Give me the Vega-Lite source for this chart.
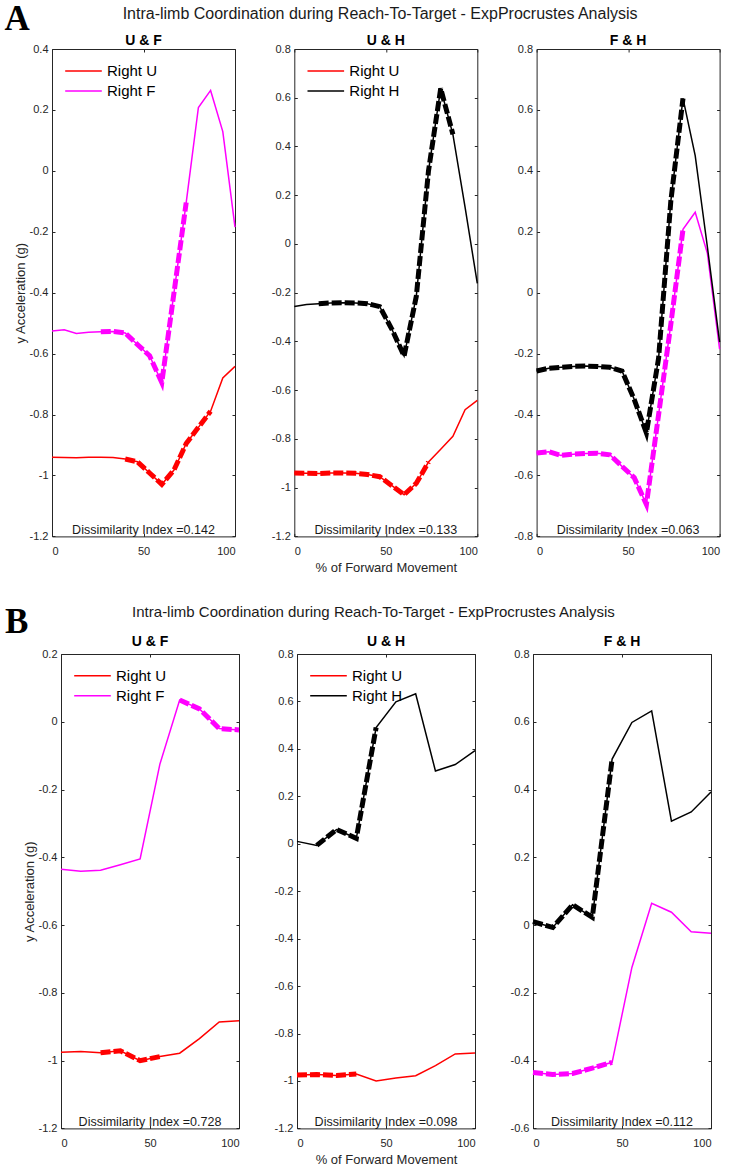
{
  "$schema": "https://vega.github.io/schema/vega-lite/v6.json",
  "background": "white",
  "padding": {"left": 4, "top": 2, "right": 8, "bottom": 2},
  "config": {
    "font": "Liberation Sans",
    "locale": {"number": {"decimal": ".", "thousands": ",", "grouping": [3], "currency": ["$", ""], "minus": "-"}},
    "view": {"stroke": "#262626", "strokeWidth": 1},
    "axis": {"grid": false, "domain": false, "tickSize": -3, "tickColor": "#262626", "tickWidth": 1, "labelColor": "#262626", "labelFontSize": 11, "titleColor": "#262626", "titleFontSize": 13, "titleFontWeight": "normal"},
    "axisY": {"labelPadding": 7, "titlePadding": 1.5},
    "axisX": {"labelPadding": 12, "titlePadding": 5},
    "title": {"fontSize": 14, "fontWeight": "bold", "color": "#000000", "offset": -5, "baseline": "alphabetic"}
  },
  "datasets": {
    "setA": [
      {"series": "Right U", "x": 0, "y": -0.940}, {"series": "Right U", "x": 6.667, "y": -0.941}, {"series": "Right U", "x": 13.333, "y": -0.942}, {"series": "Right U", "x": 20, "y": -0.940}, {"series": "Right U", "x": 26.667, "y": -0.940}, {"series": "Right U", "x": 33.333, "y": -0.941}, {"series": "Right U", "x": 40, "y": -0.946}, {"series": "Right U", "x": 46.667, "y": -0.955}, {"series": "Right U", "x": 53.333, "y": -0.992}, {"series": "Right U", "x": 60, "y": -1.029}, {"series": "Right U", "x": 66.667, "y": -0.982}, {"series": "Right U", "x": 73.333, "y": -0.895}, {"series": "Right U", "x": 80, "y": -0.842}, {"series": "Right U", "x": 86.667, "y": -0.789}, {"series": "Right U", "x": 93.333, "y": -0.680}, {"series": "Right U", "x": 100, "y": -0.642},
      {"series": "Right F", "x": 0, "y": -0.526}, {"series": "Right F", "x": 6.667, "y": -0.522}, {"series": "Right F", "x": 13.333, "y": -0.534}, {"series": "Right F", "x": 20, "y": -0.530}, {"series": "Right F", "x": 26.667, "y": -0.528}, {"series": "Right F", "x": 33.333, "y": -0.527}, {"series": "Right F", "x": 40, "y": -0.532}, {"series": "Right F", "x": 46.667, "y": -0.570}, {"series": "Right F", "x": 53.333, "y": -0.607}, {"series": "Right F", "x": 60, "y": -0.695}, {"series": "Right F", "x": 66.667, "y": -0.400}, {"series": "Right F", "x": 73.333, "y": -0.104}, {"series": "Right F", "x": 80, "y": 0.208}, {"series": "Right F", "x": 86.667, "y": 0.264}, {"series": "Right F", "x": 93.333, "y": 0.129}, {"series": "Right F", "x": 100, "y": -0.185},
      {"series": "Right H", "x": 0, "y": -0.257}, {"series": "Right H", "x": 6.667, "y": -0.248}, {"series": "Right H", "x": 13.333, "y": -0.245}, {"series": "Right H", "x": 20, "y": -0.242}, {"series": "Right H", "x": 26.667, "y": -0.241}, {"series": "Right H", "x": 33.333, "y": -0.242}, {"series": "Right H", "x": 40, "y": -0.245}, {"series": "Right H", "x": 46.667, "y": -0.257}, {"series": "Right H", "x": 53.333, "y": -0.350}, {"series": "Right H", "x": 60, "y": -0.460}, {"series": "Right H", "x": 66.667, "y": -0.215}, {"series": "Right H", "x": 73.333, "y": 0.300}, {"series": "Right H", "x": 80, "y": 0.638}, {"series": "Right H", "x": 86.667, "y": 0.450}, {"series": "Right H", "x": 93.333, "y": 0.150}, {"series": "Right H", "x": 100, "y": -0.162}
    ],
    "setB": [
      {"series": "Right U", "x": 0, "y": -0.975}, {"series": "Right U", "x": 11.111, "y": -0.973}, {"series": "Right U", "x": 22.222, "y": -0.977}, {"series": "Right U", "x": 33.333, "y": -0.971}, {"series": "Right U", "x": 44.444, "y": -1.000}, {"series": "Right U", "x": 55.556, "y": -0.988}, {"series": "Right U", "x": 66.667, "y": -0.978}, {"series": "Right U", "x": 77.778, "y": -0.935}, {"series": "Right U", "x": 88.889, "y": -0.886}, {"series": "Right U", "x": 100, "y": -0.882},
      {"series": "Right F", "x": 0, "y": -0.435}, {"series": "Right F", "x": 11.111, "y": -0.441}, {"series": "Right F", "x": 22.222, "y": -0.438}, {"series": "Right F", "x": 33.333, "y": -0.422}, {"series": "Right F", "x": 44.444, "y": -0.405}, {"series": "Right F", "x": 55.556, "y": -0.125}, {"series": "Right F", "x": 66.667, "y": 0.064}, {"series": "Right F", "x": 77.778, "y": 0.038}, {"series": "Right F", "x": 88.889, "y": -0.020}, {"series": "Right F", "x": 100, "y": -0.024},
      {"series": "Right H", "x": 0, "y": 0.010}, {"series": "Right H", "x": 11.111, "y": -0.007}, {"series": "Right H", "x": 22.222, "y": 0.060}, {"series": "Right H", "x": 33.333, "y": 0.023}, {"series": "Right H", "x": 44.444, "y": 0.490}, {"series": "Right H", "x": 55.556, "y": 0.598}, {"series": "Right H", "x": 66.667, "y": 0.632}, {"series": "Right H", "x": 77.778, "y": 0.307}, {"series": "Right H", "x": 88.889, "y": 0.334}, {"series": "Right H", "x": 100, "y": 0.393}
    ],
    "notes": [
      {"panel": "A1", "label": "Dissimilarity Index =0.142"},
      {"panel": "A2", "label": "Dissimilarity Index =0.133"},
      {"panel": "A3", "label": "Dissimilarity Index =0.063"},
      {"panel": "B1", "label": "Dissimilarity Index =0.728"},
      {"panel": "B2", "label": "Dissimilarity Index =0.098"},
      {"panel": "B3", "label": "Dissimilarity Index =0.112"}
    ]
  },
  "resolve": {"scale": {"color": "independent"}},
  "spacing": 29,
  "vconcat": [
    {
      "title": {"text": "A", "font": "Liberation Serif", "fontSize": 35, "fontWeight": "bold", "color": "#000000", "anchor": "start", "offset": -30, "dx": -9.5, "dy": 29.5, "baseline": "alphabetic"},
      "resolve": {"scale": {"color": "independent"}},
      "vconcat": [
        {
          "title": {"text": "Intra-limb Coordination during Reach-To-Target - ExpProcrustes Analysis", "fontSize": 16, "fontWeight": "normal", "color": "#1a1a1a", "anchor": "middle", "offset": -1, "dx": 11.5, "baseline": "alphabetic"},
          "bounds": "flush",
          "spacing": 59.3,
          "resolve": {"scale": {"color": "independent"}},
          "hconcat": [
            {
              "width": 183, "height": 487.4,
              "title": {"text": "U & F"},
              "layer": [
                {"data": {"name": "setA"}, "transform": [{"filter": "datum.series == 'Right U' || datum.series == 'Right F'"}],
                 "mark": {"type": "line", "strokeWidth": 1.5},
                 "encoding": {
                   "x": {"field": "x", "type": "quantitative", "scale": {"domain": [0, 100], "nice": false}, "axis": {"values": [0, 50, 100], "title": null, "format": "d"}},
                   "y": {"field": "y", "type": "quantitative", "scale": {"domain": [-1.2, 0.4], "nice": false, "zero": false}, "axis": {"values": [-1.2, -1, -0.8, -0.6, -0.4, -0.2, 0, 0.2, 0.4], "format": "~g", "title": "y Acceleration (g)"}},
                   "color": {"field": "series", "type": "nominal", "scale": {"domain": ["Right U", "Right F"], "range": ["#ff0000", "#ff00ff"]}, "legend": {"orient": "top-left", "offset": 12, "title": null, "symbolType": "stroke", "symbolSize": 1340, "symbolStrokeWidth": 1.5, "symbolDash": [], "labelFontSize": 15, "labelColor": "#000000", "labelOffset": 4, "clipHeight": 20, "rowPadding": 0, "padding": 0}}
                 }},
                {"data": {"name": "setA"}, "transform": [{"filter": "(datum.series == 'Right F' && datum.x > 26 && datum.x < 74) || (datum.series == 'Right U' && datum.x > 39 && datum.x < 87)"}],
                 "mark": {"type": "line", "strokeWidth": 5, "strokeDash": [10, 3]},
                 "encoding": {
                   "x": {"field": "x", "type": "quantitative", "axis": {"orient": "top", "values": [0, 50, 100], "labels": false, "title": null}},
                   "y": {"field": "y", "type": "quantitative", "axis": {"orient": "right", "values": [-1.2, -1, -0.8, -0.6, -0.4, -0.2, 0, 0.2, 0.4], "labels": false, "title": null}},
                   "color": {"field": "series", "type": "nominal", "legend": null}
                 }},
                {"data": {"name": "notes"}, "transform": [{"filter": "datum.panel == 'A1'"}],
                 "mark": {"type": "text", "baseline": "alphabetic", "dy": -2.5, "fontSize": 12.5, "color": "#1a1a1a"},
                 "encoding": {"x": {"datum": 50, "type": "quantitative", "axis": null}, "y": {"datum": -1.2, "type": "quantitative", "axis": null}, "text": {"field": "label"}}}
              ],
              "resolve": {"axis": {"x": "independent", "y": "independent"}}
            },
            {
              "width": 183, "height": 487.4,
              "title": {"text": "U & H"},
              "layer": [
                {"data": {"name": "setA"}, "transform": [{"filter": "datum.series == 'Right U' || datum.series == 'Right H'"}],
                 "mark": {"type": "line", "strokeWidth": 1.5},
                 "encoding": {
                   "x": {"field": "x", "type": "quantitative", "scale": {"domain": [0, 100], "nice": false}, "axis": {"values": [0, 50, 100], "title": "% of Forward Movement", "format": "d"}},
                   "y": {"field": "y", "type": "quantitative", "scale": {"domain": [-1.2, 0.8], "nice": false, "zero": false}, "axis": {"values": [-1.2, -1, -0.8, -0.6, -0.4, -0.2, 0, 0.2, 0.4, 0.6, 0.8], "format": "~g", "title": null}},
                   "color": {"field": "series", "type": "nominal", "scale": {"domain": ["Right U", "Right H"], "range": ["#ff0000", "#000000"]}, "legend": {"orient": "top-left", "offset": 12, "title": null, "symbolType": "stroke", "symbolSize": 1340, "symbolStrokeWidth": 1.5, "symbolDash": [], "labelFontSize": 15, "labelColor": "#000000", "labelOffset": 4, "clipHeight": 20, "rowPadding": 0, "padding": 0}}
                 }},
                {"data": {"name": "setA"}, "transform": [{"filter": "(datum.series == 'Right H' && datum.x > 13 && datum.x < 87) || (datum.series == 'Right U' && datum.x < 74)"}],
                 "mark": {"type": "line", "strokeWidth": 5, "strokeDash": [10, 3]},
                 "encoding": {
                   "x": {"field": "x", "type": "quantitative", "axis": {"orient": "top", "values": [0, 50, 100], "labels": false, "title": null}},
                   "y": {"field": "y", "type": "quantitative", "axis": {"orient": "right", "values": [-1.2, -1, -0.8, -0.6, -0.4, -0.2, 0, 0.2, 0.4, 0.6, 0.8], "labels": false, "title": null}},
                   "color": {"field": "series", "type": "nominal", "legend": null}
                 }},
                {"data": {"name": "notes"}, "transform": [{"filter": "datum.panel == 'A2'"}],
                 "mark": {"type": "text", "baseline": "alphabetic", "dy": -2.5, "fontSize": 12.5, "color": "#1a1a1a"},
                 "encoding": {"x": {"datum": 50, "type": "quantitative", "axis": null}, "y": {"datum": -1.2, "type": "quantitative", "axis": null}, "text": {"field": "label"}}}
              ],
              "resolve": {"axis": {"x": "independent", "y": "independent"}}
            },
            {
              "width": 183, "height": 487.4,
              "title": {"text": "F & H"},
              "layer": [
                {"data": {"name": "setA"}, "transform": [{"filter": "datum.series == 'Right F' || datum.series == 'Right H'"}],
                 "mark": {"type": "line", "strokeWidth": 1.5},
                 "encoding": {
                   "x": {"field": "x", "type": "quantitative", "scale": {"domain": [0, 100], "nice": false}, "axis": {"values": [0, 50, 100], "title": null, "format": "d"}},
                   "y": {"field": "y", "type": "quantitative", "scale": {"domain": [-0.8, 0.8], "nice": false, "zero": false}, "axis": {"values": [-0.8, -0.6, -0.4, -0.2, 0, 0.2, 0.4, 0.6, 0.8], "format": "~g", "title": null}},
                   "color": {"field": "series", "type": "nominal", "scale": {"domain": ["Right F", "Right H"], "range": ["#ff00ff", "#000000"]}, "legend": null}
                 }},
                {"data": {"name": "setA"}, "transform": [{"filter": "(datum.series == 'Right H' && datum.x < 81) || (datum.series == 'Right F' && datum.x < 81)"}],
                 "mark": {"type": "line", "strokeWidth": 5, "strokeDash": [10, 3]},
                 "encoding": {
                   "x": {"field": "x", "type": "quantitative", "axis": {"orient": "top", "values": [0, 50, 100], "labels": false, "title": null}},
                   "y": {"field": "y", "type": "quantitative", "axis": {"orient": "right", "values": [-0.8, -0.6, -0.4, -0.2, 0, 0.2, 0.4, 0.6, 0.8], "labels": false, "title": null}},
                   "color": {"field": "series", "type": "nominal", "legend": null}
                 }},
                {"data": {"name": "notes"}, "transform": [{"filter": "datum.panel == 'A3'"}],
                 "mark": {"type": "text", "baseline": "alphabetic", "dy": -2.5, "fontSize": 12.5, "color": "#1a1a1a"},
                 "encoding": {"x": {"datum": 50, "type": "quantitative", "axis": null}, "y": {"datum": -0.8, "type": "quantitative", "axis": null}, "text": {"field": "label"}}}
              ],
              "resolve": {"axis": {"x": "independent", "y": "independent"}}
            }
          ]
        }
      ]
    },
    {
      "title": {"text": "B", "font": "Liberation Serif", "fontSize": 35, "fontWeight": "bold", "color": "#000000", "anchor": "start", "offset": -34.5, "dx": -18, "dy": 28, "baseline": "alphabetic"},
      "resolve": {"scale": {"color": "independent"}},
      "bounds": "flush",
      "spacing": 0,
      "hconcat": [
        {"width": 9, "height": 10, "data": {"values": []}, "mark": {"type": "point", "opacity": 0}, "view": {"stroke": null}},
        {
          "title": {"text": "Intra-limb Coordination during Reach-To-Target - ExpProcrustes Analysis", "fontSize": 15, "fontWeight": "normal", "color": "#1a1a1a", "anchor": "middle", "offset": 2.5, "dx": 4.7, "baseline": "alphabetic"},
          "bounds": "flush",
          "spacing": 58,
          "resolve": {"scale": {"color": "independent"}},
          "hconcat": [
            {
              "width": 178, "height": 474.4,
              "title": {"text": "U & F", "offset": -1},
              "layer": [
                {"data": {"name": "setB"}, "transform": [{"filter": "datum.series == 'Right U' || datum.series == 'Right F'"}],
                 "mark": {"type": "line", "strokeWidth": 1.5},
                 "encoding": {
                   "x": {"field": "x", "type": "quantitative", "scale": {"domain": [0, 100], "nice": false}, "axis": {"values": [0, 50, 100], "title": null, "format": "d"}},
                   "y": {"field": "y", "type": "quantitative", "scale": {"domain": [-1.2, 0.2], "nice": false, "zero": false}, "axis": {"values": [-1.2, -1, -0.8, -0.6, -0.4, -0.2, 0, 0.2], "format": "~g", "title": "y Acceleration (g)"}},
                   "color": {"field": "series", "type": "nominal", "scale": {"domain": ["Right U", "Right F"], "range": ["#ff0000", "#ff00ff"]}, "legend": {"orient": "top-left", "offset": 12, "title": null, "symbolType": "stroke", "symbolSize": 1340, "symbolStrokeWidth": 1.5, "symbolDash": [], "labelFontSize": 15, "labelColor": "#000000", "labelOffset": 4, "clipHeight": 19.5, "rowPadding": 0, "padding": 0}}
                 }},
                {"data": {"name": "setB"}, "transform": [{"filter": "(datum.series == 'Right F' && datum.x > 66) || (datum.series == 'Right U' && datum.x > 22 && datum.x < 56)"}],
                 "mark": {"type": "line", "strokeWidth": 5, "strokeDash": [10, 3]},
                 "encoding": {
                   "x": {"field": "x", "type": "quantitative", "axis": {"orient": "top", "values": [0, 50, 100], "labels": false, "title": null}},
                   "y": {"field": "y", "type": "quantitative", "axis": {"orient": "right", "values": [-1.2, -1, -0.8, -0.6, -0.4, -0.2, 0, 0.2], "labels": false, "title": null}},
                   "color": {"field": "series", "type": "nominal", "legend": null}
                 }},
                {"data": {"name": "notes"}, "transform": [{"filter": "datum.panel == 'B1'"}],
                 "mark": {"type": "text", "baseline": "alphabetic", "dy": -2.5, "fontSize": 12.5, "color": "#1a1a1a"},
                 "encoding": {"x": {"datum": 50, "type": "quantitative", "axis": null}, "y": {"datum": -1.2, "type": "quantitative", "axis": null}, "text": {"field": "label"}}}
              ],
              "resolve": {"axis": {"x": "independent", "y": "independent"}}
            },
            {
              "width": 178, "height": 474.4,
              "title": {"text": "U & H", "offset": -1},
              "layer": [
                {"data": {"name": "setB"}, "transform": [{"filter": "datum.series == 'Right U' || datum.series == 'Right H'"}],
                 "mark": {"type": "line", "strokeWidth": 1.5},
                 "encoding": {
                   "x": {"field": "x", "type": "quantitative", "scale": {"domain": [0, 100], "nice": false}, "axis": {"values": [0, 50, 100], "title": "% of Forward Movement", "format": "d"}},
                   "y": {"field": "y", "type": "quantitative", "scale": {"domain": [-1.2, 0.8], "nice": false, "zero": false}, "axis": {"values": [-1.2, -1, -0.8, -0.6, -0.4, -0.2, 0, 0.2, 0.4, 0.6, 0.8], "format": "~g", "title": null}},
                   "color": {"field": "series", "type": "nominal", "scale": {"domain": ["Right U", "Right H"], "range": ["#ff0000", "#000000"]}, "legend": {"orient": "top-left", "offset": 12, "title": null, "symbolType": "stroke", "symbolSize": 1340, "symbolStrokeWidth": 1.5, "symbolDash": [], "labelFontSize": 15, "labelColor": "#000000", "labelOffset": 4, "clipHeight": 19.5, "rowPadding": 0, "padding": 0}}
                 }},
                {"data": {"name": "setB"}, "transform": [{"filter": "(datum.series == 'Right H' && datum.x > 11 && datum.x < 45) || (datum.series == 'Right U' && datum.x < 34)"}],
                 "mark": {"type": "line", "strokeWidth": 5, "strokeDash": [10, 3]},
                 "encoding": {
                   "x": {"field": "x", "type": "quantitative", "axis": {"orient": "top", "values": [0, 50, 100], "labels": false, "title": null}},
                   "y": {"field": "y", "type": "quantitative", "axis": {"orient": "right", "values": [-1.2, -1, -0.8, -0.6, -0.4, -0.2, 0, 0.2, 0.4, 0.6, 0.8], "labels": false, "title": null}},
                   "color": {"field": "series", "type": "nominal", "legend": null}
                 }},
                {"data": {"name": "notes"}, "transform": [{"filter": "datum.panel == 'B2'"}],
                 "mark": {"type": "text", "baseline": "alphabetic", "dy": -2.5, "fontSize": 12.5, "color": "#1a1a1a"},
                 "encoding": {"x": {"datum": 50, "type": "quantitative", "axis": null}, "y": {"datum": -1.2, "type": "quantitative", "axis": null}, "text": {"field": "label"}}}
              ],
              "resolve": {"axis": {"x": "independent", "y": "independent"}}
            },
            {
              "width": 178, "height": 474.4,
              "title": {"text": "F & H", "offset": -1},
              "layer": [
                {"data": {"name": "setB"}, "transform": [{"filter": "datum.series == 'Right F' || datum.series == 'Right H'"}],
                 "mark": {"type": "line", "strokeWidth": 1.5},
                 "encoding": {
                   "x": {"field": "x", "type": "quantitative", "scale": {"domain": [0, 100], "nice": false}, "axis": {"values": [0, 50, 100], "title": null, "format": "d"}},
                   "y": {"field": "y", "type": "quantitative", "scale": {"domain": [-0.6, 0.8], "nice": false, "zero": false}, "axis": {"values": [-0.6, -0.4, -0.2, 0, 0.2, 0.4, 0.6, 0.8], "format": "~g", "title": null}},
                   "color": {"field": "series", "type": "nominal", "scale": {"domain": ["Right F", "Right H"], "range": ["#ff00ff", "#000000"]}, "legend": null}
                 }},
                {"data": {"name": "setB"}, "transform": [{"filter": "(datum.series == 'Right H' && datum.x < 45) || (datum.series == 'Right F' && datum.x < 45)"}],
                 "mark": {"type": "line", "strokeWidth": 5, "strokeDash": [10, 3]},
                 "encoding": {
                   "x": {"field": "x", "type": "quantitative", "axis": {"orient": "top", "values": [0, 50, 100], "labels": false, "title": null}},
                   "y": {"field": "y", "type": "quantitative", "axis": {"orient": "right", "values": [-0.6, -0.4, -0.2, 0, 0.2, 0.4, 0.6, 0.8], "labels": false, "title": null}},
                   "color": {"field": "series", "type": "nominal", "legend": null}
                 }},
                {"data": {"name": "notes"}, "transform": [{"filter": "datum.panel == 'B3'"}],
                 "mark": {"type": "text", "baseline": "alphabetic", "dy": -2.5, "fontSize": 12.5, "color": "#1a1a1a"},
                 "encoding": {"x": {"datum": 50, "type": "quantitative", "axis": null}, "y": {"datum": -0.6, "type": "quantitative", "axis": null}, "text": {"field": "label"}}}
              ],
              "resolve": {"axis": {"x": "independent", "y": "independent"}}
            }
          ]
        }
      ]
    }
  ]
}
